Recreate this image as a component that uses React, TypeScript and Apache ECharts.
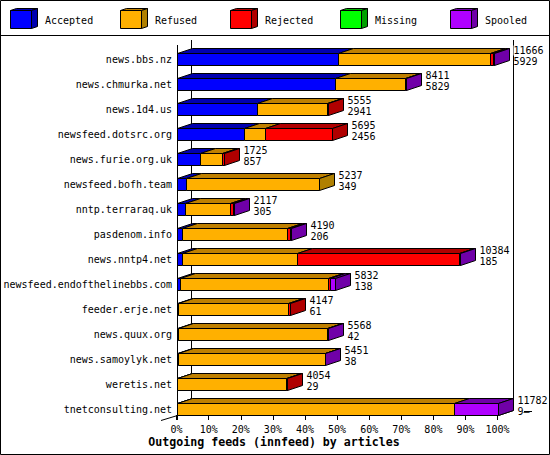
import React, { useEffect, useRef } from "react";
import * as echarts from "echarts";

const categories = ["news.bbs.nz","news.chmurka.net","news.1d4.us","newsfeed.dotsrc.org","news.furie.org.uk","newsfeed.bofh.team","nntp.terraraq.uk","pasdenom.info","news.nntp4.net","newsfeed.endofthelinebbs.com","feeder.erje.net","news.quux.org","news.samoylyk.net","weretis.net","tnetconsulting.net"];
const totals = [11666,8411,5555,5695,1725,5237,2117,4190,10384,5832,4147,5568,5451,4054,11782];
const accepted = [5929,5829,2941,2456,857,349,305,206,185,138,61,42,38,29,9];
const refused = [5560,2540,2590,785,820,4888,1665,3843,4231,5428,4036,5470,5400,3985,10156];
const rejected = [110,0,24,2454,48,0,96,97,5944,70,50,30,0,40,0];
const missing = [0,0,0,0,0,0,0,0,0,0,0,0,0,0,0];
const spooled = [67,42,0,0,0,0,51,44,24,196,0,26,13,0,1617];
const secondLabels = ["5929","5829","2941","2456","857","349","305","206","185","138","61","42","38","29","9—"];
const legendNames = ["Accepted","Refused","Rejected","Missing","Spooled"];
const legendX = [10,120,230,340,450];
const faceColors = ["#0000ff","#ffb000","#ff0000","#00ff00","#b000ff"];
const topColors = ["#0000b0","#bf8000","#b00000","#00b000","#7000a8"];
const sideColors = ["#0000b0","#b08000","#b00000","#00a000","#7000a8"];
const title = "Outgoing feeds (innfeed) by articles";

const MONO = '"DejaVu Sans Mono", monospace';
const DX = 15, DY = 5, HALF = 6;
const maxTotal = Math.max(...totals);
const groups = [accepted, refused, rejected, missing, spooled];
const snap = (v: number) => Math.round(v) + 0.5;

function buildSeries() {
  const rows: number[][][] = groups.map(() => []);
  categories.forEach((_, i) => {
    let acc = 0;
    let last = 0;
    groups.forEach((g, k) => { if (g[i] > 0) last = k; });
    groups.forEach((g, k) => {
      if (g[i] > 0) {
        const end = k === last ? totals[i] : acc + g[i];
        rows[k].push([(acc / maxTotal) * 100, (end / maxTotal) * 100, i, k === last ? 1 : 0]);
        acc = end;
      }
    });
  });
  const bars = rows.map((data, k) => ({
    type: "custom",
    name: legendNames[k],
    coordinateSystem: "cartesian2d",
    encode: { x: [0, 1], y: 2 },
    data,
    z: 3,
    renderItem: (_: any, api: any) => {
      const p0 = api.coord([api.value(0), api.value(2)]);
      const p1 = api.coord([api.value(1), api.value(2)]);
      const x0 = snap(p0[0]), x1 = snap(p1[0]);
      const yt = snap(p0[1] - HALF - 0.5), yb = yt + 2 * HALF;
      const stroke = { stroke: "#000", lineWidth: 1 };
      const children: any[] = [
        { type: "polygon", shape: { points: [[x0, yt], [x0 + DX, yt - DY], [x1 + DX, yt - DY], [x1, yt]] }, style: { fill: topColors[k], ...stroke } },
        { type: "rect", shape: { x: x0, y: yt, width: x1 - x0, height: yb - yt }, style: { fill: faceColors[k], ...stroke } },
      ];
      if (api.value(3) === 1) {
        children.push({ type: "polygon", shape: { points: [[x1, yt], [x1 + DX, yt - DY], [x1 + DX, yb - DY], [x1, yb]] }, style: { fill: sideColors[k], ...stroke } });
      }
      return { type: "group", children };
    },
  }));
  const labels = {
    type: "custom",
    coordinateSystem: "cartesian2d",
    encode: { x: 0, y: 1 },
    data: totals.map((t, i) => [(t / maxTotal) * 100, i]),
    z: 4,
    renderItem: (_: any, api: any) => {
      const i = api.value(1);
      const p = api.coord([api.value(0), i]);
      const x = snap(p[0]) + DX + 4;
      const font = `10px ${MONO}`;
      return {
        type: "group",
        children: [
          { type: "text", style: { x, y: p[1] - 9, text: String(totals[i]), font, fill: "#000", verticalAlign: "middle", backgroundColor: "#fff" } },
          { type: "text", style: { x, y: p[1] + 2, text: secondLabels[i], font, fill: "#000", verticalAlign: "middle" } },
        ],
      };
    },
  };
  return [...bars, labels];
}

function buildGraphic() {
  const line = (x1: number, y1: number, x2: number, y2: number) => ({
    type: "line", shape: { x1, y1, x2, y2 }, style: { stroke: "#000", lineWidth: 1 }, silent: true,
  });
  const els: any[] = [
    { type: "rect", shape: { x: 0.5, y: 0.5, width: 549, height: 454 }, style: { fill: "none", stroke: "#000", lineWidth: 1 } },
    line(0, 35.5, 550, 35.5),
    line(191.5, 40, 191.5, 410),
    line(513.5, 40, 513.5, 410),
    line(177.5, 45, 177.5, 420),
    line(161, 420.5, 177.5, 415.5),
    line(498.5, 415.5, 513.5, 410.5),
    line(524, 411.5, 532, 411.5),
  ];
  legendNames.forEach((name, k) => {
    const x = legendX[k] + 0.5, y = 10.5, w = 21, h = 18, dx = 6, dy = 2;
    const st = { stroke: "#000", lineWidth: 1 };
    els.push(
      { type: "polygon", shape: { points: [[x, y], [x + dx, y - dy], [x + w + dx, y - dy], [x + w, y]] }, style: { fill: topColors[k], ...st } },
      { type: "polygon", shape: { points: [[x + w, y], [x + w + dx, y - dy], [x + w + dx, y + h - dy], [x + w, y + h]] }, style: { fill: sideColors[k], ...st } },
      { type: "rect", shape: { x, y, width: w, height: h }, style: { fill: faceColors[k], ...st } },
      { type: "text", x: legendX[k] + 35, y: 20, style: { text: name, font: `10px ${MONO}`, fill: "#000", verticalAlign: "middle" } },
    );
  });
  return els;
}

export default function App() {
  const ref = useRef<HTMLDivElement>(null);
  useEffect(() => {
    document.body.style.margin = "0";
    document.body.style.overflow = "hidden";
    const chart = echarts.init(ref.current!, null, { renderer: "svg" });
    chart.setOption({
      animation: false,
      backgroundColor: "#fff",
      title: {
        text: title, left: 274, top: 436, textAlign: "center",
        textStyle: { fontFamily: MONO, fontSize: 11.6, fontWeight: "bold", color: "#000" },
        padding: 0,
      },
      grid: { left: 176.6, right: 52.4, top: 47, height: 375, containLabel: false },
      xAxis: {
        type: "value", min: 0, max: 100, interval: 10, offset: -7,
        axisLine: { show: true, onZero: false, lineStyle: { color: "#000", width: 1 } },
        axisTick: { show: true, length: 5, lineStyle: { color: "#000", width: 1 } },
        splitLine: { show: false },
        axisLabel: { formatter: "{value}%", fontFamily: MONO, fontSize: 10, color: "#000", margin: 9, hideOverlap: false },
      },
      yAxis: {
        type: "category", inverse: true, data: categories,
        axisLine: { show: false }, axisTick: { show: false },
        axisLabel: { fontFamily: MONO, fontSize: 10, color: "#000", margin: 4.5, interval: 0 },
      },
      graphic: { elements: buildGraphic() },
      series: buildSeries(),
    });
    return () => chart.dispose();
  }, []);
  return <div ref={ref} style={{ width: 550, height: 455 }} />;
}
